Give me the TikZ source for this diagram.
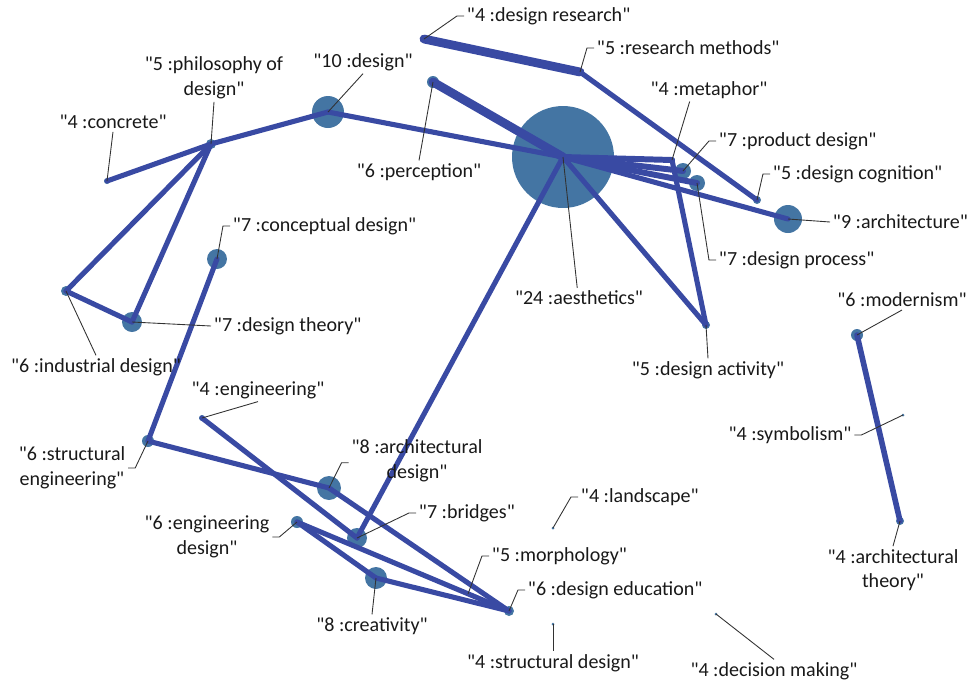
\documentclass[tikz,border=0pt]{standalone}
\usepackage{fontspec}
\setmainfont{Carlito}[Ligatures=TeXOff]
\usetikzlibrary{positioning,calc}
\definecolor{netnode}{RGB}{68,117,163}
\definecolor{netedge}{RGB}{57,74,163}
\definecolor{netlead}{RGB}{50,50,50}
\definecolor{nettext}{RGB}{25,25,25}
\tikzset{
  dot/.style={circle, fill=netnode, draw=none, inner sep=0pt, minimum size=#1*0.4mm},
  link/.style={netedge, line width=2.9pt, line cap=round},
  heavy/.style={link, line width=5pt},
  lead/.style={netlead, line width=0.5pt},
  lbl/.style={text=nettext, inner sep=1.5pt, align=center, font=\fontsize{11.4}{14}\selectfont},
}

\begin{document}
\begin{tikzpicture}[x=0.02cm, y=-0.02cm]
        \useasboundingbox (0,0) rectangle (968,684);
        % keyword dots (size = radius in px)
        \node[dot=51](aes) at (563,157) {};
        \node[dot=4](dres) at (424,39) {};
        \node[dot=3](rmeth) at (580,72) {};
        \node[dot=3](meta) at (672,160) {};
        \node[dot=8](prod) at (683,171) {};
        \node[dot=8](proc) at (697,183) {};
        \node[dot=4](cog) at (757,200) {};
        \node[dot=14](arch) at (788,219) {};
        \node[dot=4](act) at (706,325) {};
        \node[dot=6](mod) at (857,335) {};
        \node[dot=1.5](sym) at (903,415) {};
        \node[dot=4](atheo) at (900,521) {};
        \node[dot=1.5](land) at (553,528) {};
        \node[dot=2](morph) at (468,594) {};
        \node[dot=5](edu) at (509,611) {};
        \node[dot=1.5](sdes) at (553,624) {};
        \node[dot=1.5](dec) at (716,614) {};
        \node[dot=11](cre) at (376,578) {};
        \node[dot=6](engd) at (297,522) {};
        \node[dot=10](bri) at (357,538) {};
        \node[dot=12](ades) at (329,488) {};
        \node[dot=6](seng) at (148,441) {};
        \node[dot=3](engi) at (202,418) {};
        \node[dot=5](ind) at (66,291) {};
        \node[dot=10](theo) at (132,322) {};
        \node[dot=10](conc) at (217,259) {};
        \node[dot=3](crete) at (107,181) {};
        \node[dot=5](phil) at (211,144) {};
        \node[dot=16](design) at (328,112) {};
        \node[dot=6](perc) at (433,82) {};
        % co-occurrence links
        \draw[link](crete.center)--(phil.center);\draw[link](phil.center)--(design.center);
        \draw[link](design.center)--(aes.center);
        \draw[link](phil.center)--(ind.center);\draw[link](phil.center)--(theo.center);
        \draw[link](ind.center)--(theo.center);
        \draw[link](conc.center)--(seng.center);\draw[link](seng.center)--(ades.center);
        \draw[link](ades.center)--(edu.center);
        \draw[link](engi.center)--(bri.center);\draw[link](bri.center)--(aes.center);
        \draw[link](engd.center)--(edu.center);\draw[link](engd.center)--(cre.center);
        \draw[link](cre.center)--(edu.center);
        \draw[heavy](perc.center)--(aes.center);
        \draw[heavy](dres.center)--(rmeth.center);
        \draw[link](rmeth.center)--(cog.center);
        \draw[link,line width=3.4pt](aes.center)--(meta.center);
        \draw[link,line width=3.4pt](aes.center)--(prod.center);
        \draw[link,line width=3.4pt](aes.center)--(proc.center);
        \draw[link](aes.center)--(arch.center);
        \draw[link](aes.center)--(act.center);\draw[link](meta.center)--(act.center);
        \draw[link,line width=3.2pt](mod.center)--(atheo.center);
        % labels
        \node[lbl,anchor=west](ldres) at (464,16) {"4 :design research"};
        \node[lbl,anchor=west](lrmeth) at (594,48) {"5 :research methods"};
        \node[lbl](lmeta) at (709,90) {"4 :metaphor"};
        \node[lbl,anchor=west](lprod) at (716,141) {"7 :product design"};
        \node[lbl,anchor=west](lcog) at (770,174) {"5 :design cognition"};
        \node[lbl,anchor=west](larch) at (830,222) {"9 :architecture"};
        \node[lbl,anchor=west](lproc) at (716,260) {"7 :design process"};
        \node[lbl](laes) at (579,298) {"24 :aesthetics"};
        \node[lbl](lact) at (708,370) {"5 :design activity"};
        \node[lbl](lmod) at (902,300) {"6 :modernism"};
        \node[lbl](lsym) at (790,435) {"4 :symbolism"};
        \node[lbl](latheo) at (893,570) {"4 :architectural\\theory"};
        \node[lbl,anchor=west](lland) at (578,497) {"4 :landscape"};
        \node[lbl,anchor=west](lmorph) at (489,556) {"5 :morphology"};
        \node[lbl,anchor=west](ledu) at (525,590) {"6 :design education"};
        \node[lbl](lsdes) at (553,663) {"4 :structural design"};
        \node[lbl](ldec) at (774,671) {"4 :decision making"};
        \node[lbl](lcre) at (372,626) {"8 :creativity"};
        \node[lbl](lengd) at (207,537) {"6 :engineering\\design"};
        \node[lbl,anchor=west](lbri) at (416,513) {"7 :bridges"};
        \node[lbl](lades) at (417,461) {"8 :architectural\\design"};
        \node[lbl](lseng) at (72,468) {"6 :structural\\engineering"};
        \node[lbl](lengi) at (258,390) {"4 :engineering"};
        \node[lbl](lind) at (96,367) {"6 :industrial design"};
        \node[lbl,anchor=west](ltheo) at (211,326) {"7 :design theory"};
        \node[lbl,anchor=west](lconc) at (230,226) {"7 :conceptual design"};
        \node[lbl](lcrete) at (113,122) {"4 :concrete"};
        \node[lbl](lphil) at (214,78) {"5 :philosophy of\\design"};
        \node[lbl](ldesign) at (363,62) {"10 :design"};
        \node[lbl](lperc) at (419,172) {"6 :perception"};
        % leader lines
        \draw[lead](dres.center)--([xshift=-4pt]ldres.west)--(ldres.west);
        \draw[lead](rmeth.center)--([xshift=-4pt]lrmeth.west)--(lrmeth.west);
        \draw[lead](meta.center)--([xshift=-11pt]lmeta.south);
        \draw[lead](prod.center)--([xshift=-4pt]lprod.west)--(lprod.west);
        \draw[lead](cog.center)--([xshift=-4pt]lcog.west)--(lcog.west);
        \draw[lead](arch.center)--(larch.west);
        \draw[lead](proc.center)--([xshift=-4pt]lproc.west)--(lproc.west);
        \draw[lead](aes.center)--([xshift=-1pt]laes.north);
        \draw[lead](act.center)--(lact.north);
        \draw[lead](mod.center)--(lmod.south);
        \draw[lead](sym.center)--([xshift=4pt]lsym.east)--(lsym.east);
        \draw[lead](atheo.center)--(latheo.north);
        \draw[lead](land.center)--([xshift=-4pt]lland.west)--(lland.west);
        \draw[lead](morph.center)--([xshift=-4pt]lmorph.west)--(lmorph.west);
        \draw[lead](edu.center)--([xshift=-4pt]ledu.west)--(ledu.west);
        \draw[lead](sdes.center)--(lsdes.north);
        \draw[lead](dec.center)--(ldec.north);
        \draw[lead](cre.center)--(lcre.north);
        \draw[lead](engd.center)--([xshift=4pt]lengd.east)--(lengd.east);
        \draw[lead](bri.center)--([xshift=-4pt]lbri.west)--(lbri.west);
        \draw[lead](ades.center)--([xshift=-4pt,yshift=-1pt]lades.west)--([yshift=-1pt]lades.west);
        \draw[lead](seng.center)--([xshift=4pt]lseng.east)--(lseng.east);
        \draw[lead](engi.center)--(lengi.south);
        \draw[lead](ind.center)--(lind.north);
        \draw[lead](theo.center)--(ltheo.west);
        \draw[lead](conc.center)--([xshift=-4pt]lconc.west)--(lconc.west);
        \draw[lead](crete.center)--(lcrete.south);
        \draw[lead](phil.center)--(lphil.south);
        \draw[lead](design.center)--(ldesign.south);
        \draw[lead](perc.center)--(lperc.north);
    \end{tikzpicture}
\end{document}
